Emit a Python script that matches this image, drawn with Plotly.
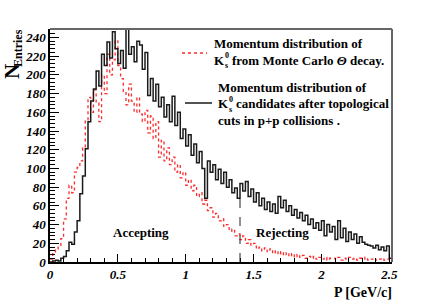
import plotly.graph_objects as go

# ---------------- data ----------------
BIN_W = 0.02
CUT_P = 1.4

# K0s candidates after topological cuts in p+p (black, solid)
black_counts = [
    0, 1, 2, 1, 4, 6, 12, 21, 19, 32,
    44, 73, 92, 121, 150, 172, 185, 204, 188, 222,
    210, 235, 218, 246, 228, 212, 226, 207, 249, 222,
    230, 214, 236, 232, 206, 224, 178, 196, 172, 190,
    166, 176, 155, 168, 150, 177, 146, 160, 132, 142,
    124, 136, 114, 126, 106, 118, 100, 68, 108, 96,
    104, 88, 99, 84, 96, 80, 88, 74, 79, 68,
    84, 76, 86, 70, 78, 64, 74, 60, 68, 56,
    64, 54, 62, 52, 70, 58, 66, 54, 60, 50,
    56, 47, 53, 44, 50, 40, 46, 36, 42, 34,
    44, 28, 40, 32, 38, 24, 44, 26, 36, 22,
    32, 24, 30, 20, 27, 21, 19, 18, 17, 15,
    18, 13, 16, 12, 17, 4,
]

# K0s from Monte Carlo Theta decay (red, dotted)
red_counts = [
    3, 9, 14, 16, 25, 46, 68, 82, 74, 96,
    101, 108, 122, 152, 176, 160, 184, 170, 150, 200,
    180, 222, 200, 216, 237, 210, 196, 182, 168, 190,
    172, 160, 176, 158, 150, 162, 138, 156, 132, 150,
    112, 130, 108, 122, 104, 112, 96, 104, 90, 96,
    82, 88, 76, 82, 70, 74, 62, 66, 55, 58,
    48, 52, 44, 46, 38, 40, 33, 35, 28, 30,
    24, 28, 20, 24, 18, 20, 14, 16, 12, 15,
    11, 14, 9, 12, 8, 11, 7, 10, 6, 9,
    5, 8, 5, 7, 4, 6, 4, 6, 3, 5,
    3, 5, 2, 4, 4, 3, 5, 2, 4, 3,
    5, 3, 4, 2, 4, 3, 5, 2, 3, 4,
    2, 3, 4, 2, 3, 2,
]

x_tick_vals = [0, 0.5, 1, 1.5, 2, 2.5]
x_tick_text = ["0", "0.5", "1", "1.5", "2", "2.5"]
y_tick_vals = list(range(0, 241, 20))
y_tick_text = [str(v) for v in y_tick_vals]

# ---------------- figure ----------------
W, H = 436, 300
L, R, T, B = 50, 44, 29, 38
pw, ph = W - L - R, H - T - B


def px(x):
    return (x - L) / pw


def py(y):
    return (H - B - y) / ph


edges = [i * BIN_W for i in range(len(black_counts) + 1)]

fig = go.Figure()
fig.add_trace(go.Scatter(
    x=edges, y=red_counts + [red_counts[-1]], mode="lines", line_shape="hv",
    line=dict(color="#ff2a2a", width=1.3, dash="dot"), hoverinfo="skip",
    showlegend=False))
fig.add_trace(go.Scatter(
    x=edges, y=black_counts + [black_counts[-1]], mode="lines", line_shape="hv",
    line=dict(color="#1a1a1a", width=1.5), hoverinfo="skip", showlegend=False))

cut_bin = int(round(CUT_P / BIN_W))
fig.add_shape(type="line", xref="x", yref="y", x0=CUT_P, x1=CUT_P, y0=0,
              y1=black_counts[cut_bin - 1],
              line=dict(color="#222", width=1, dash="dash"))

tfont = dict(family="Liberation Serif", size=13, color="black",
             weight="bold", style="italic")
fig.update_xaxes(range=[0, edges[-1]], tickvals=x_tick_vals, ticktext=x_tick_text,
                 ticks="inside", ticklen=8, tickwidth=1, tickcolor="black",
                 showline=True, linecolor="black", linewidth=1.5, mirror=False,
                 showgrid=False, zeroline=False, tickfont=tfont,
                 minor=dict(dtick=0.1, ticks="inside", ticklen=4, tickcolor="black",
                            showgrid=False))
fig.update_yaxes(range=[0, 249], tickvals=y_tick_vals, ticktext=y_tick_text,
                 ticks="inside", ticklen=9, tickwidth=1, tickcolor="black",
                 showline=True, linecolor="black", linewidth=1.5, mirror=False,
                 showgrid=False, zeroline=False, tickfont=tfont,
                 minor=dict(dtick=4, ticks="inside", ticklen=5, tickcolor="black",
                            showgrid=False))

# frame top/right
fig.add_shape(type="line", xref="paper", yref="paper", x0=0, x1=1, y0=1, y1=1,
              line=dict(color="#666", width=2))
fig.add_shape(type="line", xref="paper", yref="paper", x0=1, x1=1, y0=0, y1=1,
              line=dict(color="#666", width=2))

bfont = dict(family="Liberation Serif", size=13, color="black", weight="bold")
ann = []


def text(x, y, s, size=13, xanchor="left", angle=0, style="normal"):
    f = dict(bfont)
    f["size"] = size
    f["style"] = style
    ann.append(dict(xref="paper", yref="paper", x=px(x), y=py(y), text=s,
                    showarrow=False, xanchor=xanchor, yanchor="middle",
                    font=f, textangle=angle, borderpad=0))


# legend - red
fig.add_shape(type="line", xref="paper", yref="paper", x0=px(182), x1=px(207),
              y0=py(53), y1=py(53), line=dict(color="#ff2a2a", width=1.3, dash="dot"))
text(213, 44, "Momentum distribution of")
text(213, 60, "K")
text(223.5, 55.5, "0", size=8)
text(223.5, 65, "s", size=8)
text(231, 60, "from Monte Carlo <i>Θ</i> decay.")
# legend - black
fig.add_shape(type="line", xref="paper", yref="paper", x0=px(185), x1=px(212),
              y0=py(103), y1=py(103), line=dict(color="#1a1a1a", width=1.5))
text(217, 87, "Momentum distribution of")
text(217, 104, "K")
text(227.5, 99.5, "0", size=8)
text(227.5, 109, "s", size=8)
text(235, 104, "candidates after topological")
text(217, 120, "cuts in p+p collisions .")

text(141, 232, "Accepting", xanchor="center")
text(282, 232, "Rejecting", xanchor="center")
text(393, 292, "P [GeV/c]", size=14, xanchor="right")
# y-axis title: N with subscript "Entries"
text(12, 72, "N", size=21, xanchor="center", angle=-90)
text(18, 48, "Entries", size=12, xanchor="center", angle=-90)

fig.update_layout(width=W, height=H, margin=dict(l=L, r=R, t=T, b=B),
                  paper_bgcolor="white", plot_bgcolor="white",
                  annotations=ann, showlegend=False)

fig.write_html("out.html", config={"displayModeBar": False},
               post_script="document.body.style.margin='0px';"
                           "document.body.style.padding='0px';")
